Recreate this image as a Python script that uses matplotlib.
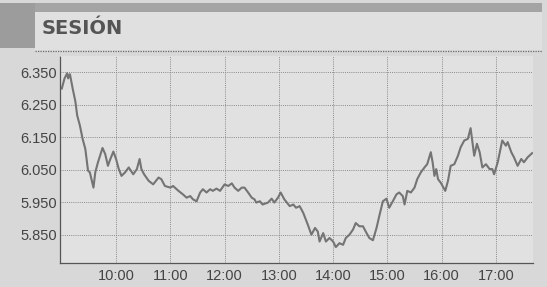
import matplotlib
matplotlib.use("Agg")
import matplotlib.pyplot as plt
from matplotlib.patches import Rectangle
from matplotlib.lines import Line2D

# minutes after 9:00 and index value
minutes = [0, 3, 6, 7, 9, 12, 15, 17, 20, 23, 26, 29, 31, 35, 37, 40, 45, 48, 51, 53,
           57, 60, 63, 66, 70, 74, 79, 83, 86, 88, 91, 96, 101, 107, 110, 114, 120, 123, 129, 134,
           138, 142, 145, 149, 153, 156, 160, 164, 167, 171, 175, 180, 184, 188, 191, 195, 199, 202, 206, 210,
           213, 215, 219, 222, 228, 232, 235, 239, 242, 246, 252, 256, 259, 263, 267, 272, 276, 280, 283, 285,
           289, 292, 296, 300, 303, 307, 311, 314, 318, 322, 325, 329, 333, 336, 340, 344, 348, 351, 355, 359,
           362, 366, 370, 373, 377, 379, 382, 386, 390, 393, 397, 401, 404, 408, 410, 412, 414, 416, 419, 424,
           427, 430, 434, 438, 441, 445, 449, 452, 454, 456, 459, 462, 465, 469, 473, 476, 478, 482, 485, 487,
           491, 493, 497, 500, 504, 508, 511, 515, 520]
values = [6.300, 6.331, 6.347, 6.331, 6.344, 6.300, 6.260, 6.217, 6.186, 6.145, 6.114, 6.047, 6.042, 5.995, 6.042, 6.073, 6.117, 6.098, 6.062, 6.078,
          6.106, 6.083, 6.052, 6.031, 6.042, 6.057, 6.036, 6.052, 6.083, 6.052, 6.036, 6.016, 6.005, 6.026, 6.021, 6.000, 5.995, 6.000, 5.985, 5.974,
          5.964, 5.969, 5.959, 5.953, 5.980, 5.990, 5.980, 5.990, 5.985, 5.992, 5.985, 6.005, 6.000, 6.008, 5.995, 5.985, 5.995, 5.995, 5.980, 5.964,
          5.959, 5.949, 5.953, 5.943, 5.949, 5.961, 5.949, 5.964, 5.980, 5.959, 5.938, 5.943, 5.933, 5.938, 5.917, 5.881, 5.850, 5.871, 5.860, 5.829,
          5.855, 5.829, 5.840, 5.829, 5.812, 5.824, 5.819, 5.840, 5.850, 5.866, 5.886, 5.876, 5.876, 5.860, 5.840, 5.833, 5.871, 5.907, 5.953, 5.961,
          5.933, 5.953, 5.974, 5.980, 5.969, 5.943, 5.985, 5.980, 5.995, 6.021, 6.042, 6.057, 6.067, 6.104, 6.073, 6.031, 6.052, 6.021, 6.010, 5.985,
          6.016, 6.062, 6.067, 6.093, 6.119, 6.140, 6.145, 6.178, 6.135, 6.093, 6.130, 6.104, 6.057, 6.067, 6.052, 6.052, 6.036, 6.073, 6.114, 6.140,
          6.124, 6.135, 6.104, 6.088, 6.062, 6.083, 6.073, 6.088, 6.101]

y_ticks = [5.850, 5.950, 6.050, 6.150, 6.250, 6.350]
y_labels = ["5.850", "5.950", "6.050", "6.150", "6.250", "6.350"]
hour_labels = ["10:00", "11:00", "12:00", "13:00", "14:00", "15:00", "16:00", "17:00"]
hour_ticks = [60 * (i + 1) for i in range(len(hour_labels))]

title = "SESIÓN"

plt.rcParams['font.family'] = ['Liberation Sans', 'DejaVu Sans']

W, H = 547, 287
fig = plt.figure(figsize=(W / 100, H / 100), dpi=100)
fig.patch.set_facecolor('#d8d8d8')

def fx(px):
    return px / W

def fy(py):
    return 1 - py / H

# header
fig.add_artist(Rectangle((0, fy(48)), fx(35), fy(3) - fy(48), transform=fig.transFigure,
                         facecolor='#9c9c9c', edgecolor='none'))
fig.add_artist(Rectangle((fx(35), fy(12)), fx(542) - fx(35), fy(3) - fy(12), transform=fig.transFigure,
                         facecolor='#a4a4a4', edgecolor='none'))
fig.add_artist(Rectangle((fx(35), fy(50)), fx(542) - fx(35), fy(12) - fy(50), transform=fig.transFigure,
                         facecolor='#e0e0e0', edgecolor='none'))
fig.add_artist(Line2D([fx(35), fx(542)], [fy(51), fy(51)], transform=fig.transFigure,
                      color='#6a6a6a', lw=0.9, ls=(0, (1, 1))))
fig.text(fx(42), fy(29), title, fontsize=14, fontweight='bold', color='#555555',
         family='DejaVu Sans', ha='left', va='center')

ax = fig.add_axes([fx(60), fy(263), fx(533) - fx(60), fy(56) - fy(263)])
ax.set_facecolor('#e1e1e1')
ax.plot(minutes, values, color='#747474', lw=1.5, solid_joinstyle='round')

ax.set_xlim(-2, 521)
ax.set_ylim(5.763, 6.400)
ax.set_yticks(y_ticks)
ax.set_yticklabels(y_labels)
ax.set_xticks(hour_ticks)
ax.set_xticklabels(hour_labels)
ax.tick_params(length=0, labelsize=10.5, colors='#444444', pad=2)
ax.tick_params(axis='x', pad=4)
ax.grid(True, color='#8a8a8a', lw=0.7, ls=(0, (1, 1.2)))
for s in ['top', 'right']:
    ax.spines[s].set_visible(False)
for s in ['left', 'bottom']:
    ax.spines[s].set_color('#555555')
    ax.spines[s].set_linewidth(0.9)
    ax.spines[s].set_linestyle((0, (1, 1)))

fig.savefig('out.png', dpi=100, facecolor=fig.get_facecolor())
